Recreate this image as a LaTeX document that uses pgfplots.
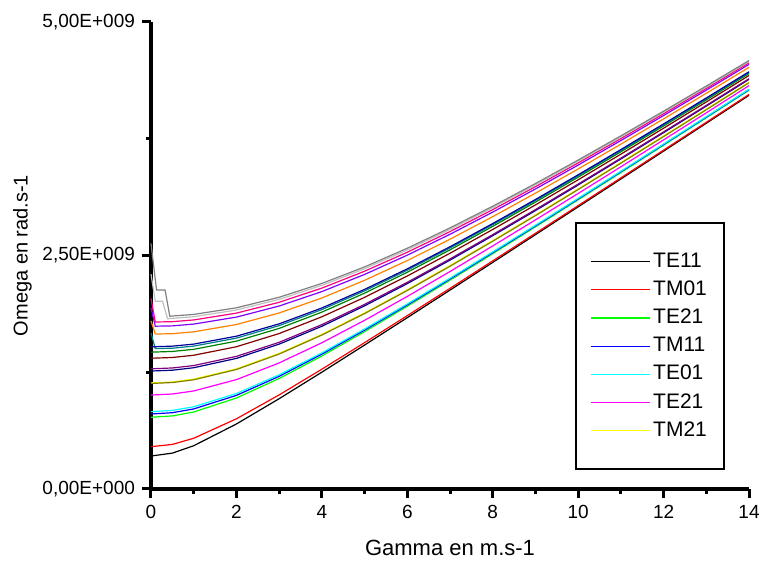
\documentclass[border=0pt]{standalone}
\usepackage{pgfplots}
\pgfplotsset{compat=1.18}
\usepackage{fontspec}
\setmainfont{Liberation Sans}
\definecolor{cgreen}{HTML}{00FF00}
\definecolor{cdkyellow}{HTML}{808000}
\definecolor{cnavy}{HTML}{000080}
\definecolor{cpurple}{HTML}{800080}
\definecolor{cwine}{HTML}{800000}
\definecolor{colive}{HTML}{008000}
\definecolor{cdkcyan}{HTML}{008080}
\definecolor{croyal}{HTML}{0000A0}
\definecolor{corange}{HTML}{FF8000}
\definecolor{cviolet}{HTML}{8000FF}
\definecolor{cpink}{HTML}{FF0080}
\definecolor{cltgray}{HTML}{C0C0C0}
\definecolor{cgray}{HTML}{808080}
\definecolor{ccyan}{HTML}{00FFFF}
\definecolor{cmagenta}{HTML}{FF00FF}
\definecolor{cyellow}{HTML}{FFFF00}
\begin{document}
\begin{tikzpicture}
\begin{axis}[
  width=299pt, height=233.5pt, scale only axis,
  xmin=0, xmax=14, ymin=0, ymax=5,
  axis lines*=left,
  axis line style={line width=1.6pt},
  xtick={0,2,...,14}, minor x tick num=1,
  ytick={0,2.5,5}, minor y tick num=1,
  yticklabels={{0,00E+000},{2,50E+009},{5,00E+009}},
  tick align=outside,
  major tick length=4.5pt, minor tick length=2.5pt,
  every tick/.style={line width=1.5pt, black},
  /pgf/number format/assume math mode=true,
  ticklabel style={font=\fontsize{9.5}{11}\selectfont},
  xlabel={Gamma en m.s-1},
  ylabel={Omega en rad.s-1},
  xlabel style={font=\fontsize{11}{13}\selectfont, at={(axis description cs:0.5,-0.1263)}, anchor=center},
  ylabel style={font=\fontsize{10}{12}\selectfont, at={(axis description cs:-0.215,0.5)}, anchor=center},
  legend cell align=left,
  legend image code/.code={\draw[#1, line width=0.6pt] (0pt,0pt) -- (29.5pt,0pt);},
  legend style={at={(axis description cs:0.709,0.5717)}, anchor=north west,
    line width=1pt, inner xsep=7pt, inner ysep=13pt,
    font=\fontsize{10.5}{12}\selectfont, row sep=1.6pt,
    nodes={inner sep=1.5pt, text height=7.5pt, text depth=2pt},
    /tikz/every even column/.style={column sep=0pt}},
  every axis plot/.append style={line width=0.6pt},
  clip=false,
]
\addplot[black] coordinates {(0,0.353)(0.5,0.3841)(1,0.4633)(2,0.6961)(3,0.9667)(4,1.2508)(5,1.5410)(6,1.8343)(7,2.1295)(8,2.4258)(9,2.7230)(10,3.0207)(11,3.3188)(12,3.6173)(13,3.9160)(14,4.2148)};
\addlegendentry{TE11}
\addplot[red] coordinates {(0,0.453)(0.5,0.4774)(1,0.5433)(2,0.7518)(3,1.0076)(4,1.2827)(5,1.5669)(6,1.8561)(7,2.1483)(8,2.4424)(9,2.7377)(10,3.0340)(11,3.3310)(12,3.6284)(13,3.9262)(14,4.2243)};
\addlegendentry{TM01}
\addplot[cgreen] coordinates {(0,0.768)(0.5,0.7825)(1,0.8245)(2,0.9746)(3,1.1831)(4,1.4247)(5,1.6852)(6,1.9570)(7,2.2360)(8,2.5199)(9,2.8071)(10,3.0967)(11,3.3882)(12,3.6810)(13,3.9749)(14,4.2696)};
\addlegendentry{TE21}
\addplot[blue] coordinates {(0,0.803)(0.5,0.8169)(1,0.8572)(2,1.0024)(3,1.2062)(4,1.4439)(5,1.7014)(6,1.9710)(7,2.2483)(8,2.5308)(9,2.8169)(10,3.1056)(11,3.3963)(12,3.6885)(13,3.9818)(14,4.2761)};
\addlegendentry{TM11}
\addplot[ccyan] coordinates {(0,0.828)(0.5,0.8415)(1,0.8807)(2,1.0226)(3,1.2230)(4,1.4580)(5,1.7134)(6,1.9813)(7,2.2574)(8,2.5388)(9,2.8241)(10,3.1122)(11,3.4023)(12,3.6940)(13,3.9869)(14,4.2809)};
\addlegendentry{TE01}
\addplot[cmagenta] coordinates {(0,1.006)(0.5,1.0171)(1,1.0498)(2,1.1713)(3,1.3498)(4,1.5659)(5,1.8061)(6,2.0620)(7,2.3285)(8,2.6023)(9,2.8813)(10,3.1642)(11,3.4499)(12,3.7379)(13,4.0277)(14,4.3188)};
\addlegendentry{TE21}
\addplot[cyellow] coordinates {(0,1.136)(0.5,1.146)(1,1.1771)(2,1.2874)(3,1.4526)(4,1.6563)(5,1.8860)(6,2.1333)(7,2.3927)(8,2.6607)(9,2.9349)(10,3.2138)(11,3.4961)(12,3.7812)(13,4.0684)(14,4.3574)};
\addlegendentry{TM21}
\addplot[cdkyellow, forget plot] coordinates {(0,1.13)(0.5,1.1399)(1,1.1691)(2,1.2794)(3,1.4446)(4,1.6483)(5,1.8780)(6,2.1253)(7,2.3847)(8,2.6527)(9,2.9269)(10,3.2058)(11,3.4881)(12,3.7732)(13,4.0604)(14,4.3494)};
\addplot[cnavy, forget plot] coordinates {(0,1.263)(0.5,1.2719)(1,1.2982)(2,1.3983)(3,1.5509)(4,1.7422)(5,1.9609)(6,2.1989)(7,2.4506)(8,2.7121)(9,2.9808)(10,3.2550)(11,3.5334)(12,3.8151)(13,4.0994)(14,4.3858)};
\addplot[cpurple, forget plot] coordinates {(0,1.287)(0.5,1.2957)(1,1.3215)(2,1.4200)(3,1.5705)(4,1.7597)(5,1.9765)(6,2.2128)(7,2.4630)(8,2.7233)(9,2.9911)(10,3.2644)(11,3.5421)(12,3.8231)(13,4.1069)(14,4.3928)};
\addplot[cwine, forget plot] coordinates {(0,1.40)(0.5,1.408)(1,1.4318)(2,1.5232)(3,1.6643)(4,1.8439)(5,2.0518)(6,2.2804)(7,2.5239)(8,2.7785)(9,3.0414)(10,3.3106)(11,3.5847)(12,3.8626)(13,4.1437)(14,4.4272)};
\addplot[colive, forget plot] coordinates {(0,1.465)(0.5,1.4727)(1,1.4954)(2,1.5831)(3,1.7194)(4,1.8937)(5,2.0967)(6,2.3208)(7,2.5605)(8,2.8118)(9,3.0718)(10,3.3386)(11,3.6106)(12,3.8867)(13,4.1661)(14,4.4482)};
\addplot[cdkcyan, forget plot] coordinates {(0,1.67)(0.1,1.503)(0.5,1.5075)(1,1.5297)(2,1.6155)(3,1.7493)(4,1.9209)(5,2.1213)(6,2.3431)(7,2.5807)(8,2.8302)(9,3.0887)(10,3.3541)(11,3.6249)(12,3.9000)(13,4.1785)(14,4.4598)};
\addplot[croyal, forget plot] coordinates {(0,1.522)(0.5,1.5294)(1,1.5513)(2,1.6360)(3,1.7682)(4,1.9382)(5,2.1370)(6,2.3572)(7,2.5936)(8,2.8419)(9,3.0994)(10,3.3640)(11,3.6341)(12,3.9085)(13,4.1865)(14,4.4673)};
\addplot[corange, forget plot] coordinates {(0,1.80)(0.1,1.659)(0.5,1.6628)(1,1.6830)(2,1.7613)(3,1.8848)(4,2.0451)(5,2.2344)(6,2.4459)(7,2.6744)(8,2.9159)(9,3.1674)(10,3.4267)(11,3.6922)(12,3.9626)(13,4.2370)(14,4.5147)};
\addplot[cviolet, forget plot] coordinates {(0,1.94)(0.1,1.743)(0.5,1.7465)(1,1.7657)(2,1.8405)(3,1.9590)(4,2.1137)(5,2.2973)(6,2.5035)(7,2.7272)(8,2.9644)(9,3.2121)(10,3.4681)(11,3.7306)(12,3.9985)(13,4.2706)(14,4.5462)};
\addplot[cpink, forget plot] coordinates {(0,2.04)(0.1,1.788)(0.5,1.7913)(1,1.8100)(2,1.8832)(3,1.9990)(4,2.1509)(5,2.3316)(6,2.5350)(7,2.7561)(8,2.9910)(9,3.2367)(10,3.4909)(11,3.7518)(12,4.0182)(13,4.2891)(14,4.5636)};
\addplot[cltgray, forget plot] coordinates {(0,2.30)(0.1,2.01)(0.27,2.01)(0.39,1.823)(1,1.8446)(2,1.9164)(3,2.0304)(4,2.1800)(5,2.3585)(6,2.5598)(7,2.7789)(8,3.0121)(9,3.2561)(10,3.5089)(11,3.7686)(12,4.0339)(13,4.3038)(14,4.5774)};
\addplot[cgray, forget plot] coordinates {(0,2.63)(0.13,2.13)(0.33,2.13)(0.44,1.850)(1,1.8692)(2,1.9401)(3,2.0528)(4,2.2009)(5,2.3778)(6,2.5776)(7,2.7954)(8,3.0272)(9,3.2702)(10,3.5220)(11,3.7808)(12,4.0452)(13,4.3144)(14,4.5874)};
\end{axis}
\pgfresetboundingbox
\path (-75.5pt,-36pt) rectangle (304.5pt,244.5pt);
\end{tikzpicture}
\end{document}
